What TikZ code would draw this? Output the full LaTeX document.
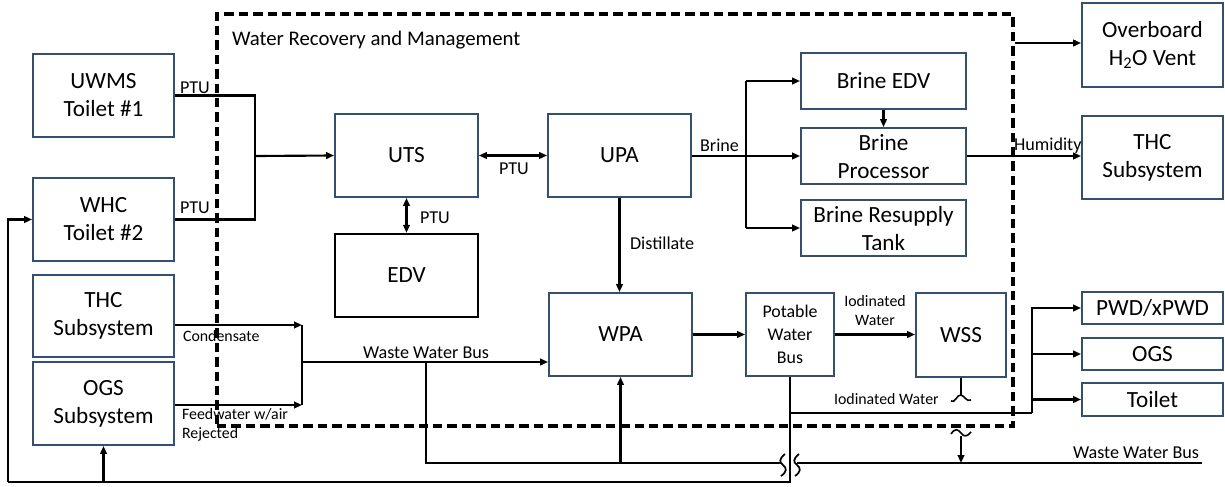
\documentclass[tikz,border=0pt]{standalone}
\usepackage{fontspec}
\setmainfont{Carlito}
\usetikzlibrary{arrows.meta,fit}
\definecolor{boxline}{HTML}{34506E}
\tikzset{
  x=0.75pt, y=-0.75pt,
  every path/.style={line width=1.6pt},
  unit/.style={draw=boxline, line width=1.4pt, rectangle, inner sep=0pt},
  blackunit/.style={unit, draw=black, line width=1.8pt},
  unittext/.style={align=center, font=\fontsize{17.4pt}{21pt}\selectfont},
  lbl/.style={inner sep=0pt, font=\fontsize{13.6pt}{14.2pt}\selectfont},
  smalllbl/.style={inner sep=0pt, font=\fontsize{11.9pt}{14pt}\selectfont},
  flow/.style={-{Triangle[length=6pt,width=5pt]}},
  bothflow/.style={{Triangle[length=6pt,width=5pt]}-{Triangle[length=6pt,width=5pt]}},
  boundary/.style={draw=black, line width=2.5pt, dash pattern=on 7pt off 3.8pt, inner sep=0pt}
}
\begin{document}
\begin{tikzpicture}
\useasboundingbox (0,0) rectangle (1225,486);

% subsystem boundary
\node[boundary, fit={(217,14) (1013,426)}] (wrm) {};
\node[lbl, anchor=base west, font=\fontsize{15.6pt}{18pt}\selectfont] (wrmtitle) at (231,45) {Water Recovery and Management};

% boxes outside the boundary, left
\node[unit, fit={(33,54) (174,137)}] (uwms) {};
\node[unittext] (uwmsT) at (uwms) {UWMS\\Toilet \#1};
\node[unit, fit={(33,178) (174,261)}] (whc) {};
\node[unittext] (whcT) at (whc) {WHC\\Toilet \#2};
\node[unit, fit={(33,275) (174,357)}] (thcl) {};
\node[unittext] (thclT) at (thcl) {THC\\Subsystem};
\node[unit, fit={(33,362) (174,445)}] (ogsl) {};
\node[unittext] (ogslT) at (ogsl) {OGS\\Subsystem};

% boxes inside the boundary
\node[unit, fit={(335,114) (478,197)}] (uts) {};
\node[unittext] (utsT) at (uts) {UTS};
\node[unit, fit={(548,114) (691,197)}] (upa) {};
\node[unittext] (upaT) at (upa) {UPA};
\node[blackunit, fit={(335,234) (478,317)}] (edv) {};
\node[unittext] (edvT) at (edv) {EDV};
\node[unit, fit={(549,293) (692,376)}] (wpa) {};
\node[unittext] (wpaT) at (wpa) {WPA};
\node[unit, fit={(801,53) (966,109)}] (bedv) {};
\node[unittext] (bedvT) at (bedv) {Brine EDV};
\node[unit, fit={(801,128) (966,184)}] (bproc) {};
\node[unittext] (bprocT) at ([yshift=-0.75pt]bproc) {Brine\\Processor};
\node[unit, fit={(801,200) (966,256)}] (btank) {};
\node[unittext] (btankT) at ([yshift=-0.75pt]btank) {Brine Resupply\\Tank};
\node[unit, fit={(746,293) (834,376)}] (pwb) {};
\node[unittext, font=\fontsize{13.4pt}{17pt}\selectfont] (pwbT) at (pwb) {Potable\\Water\\Bus};
\node[unit, fit={(916,293) (1006,377)}] (wss) {};
\node[unittext] (wssT) at (wss) {WSS};

% boxes outside the boundary, right
\node[unit, fit={(1082,3) (1223,87)}] (obv) {};
\node[unittext] (obvT) at (obv) {Overboard\\H\textsubscript{2}O Vent};
\node[unit, fit={(1082,116) (1223,199)}] (thcr) {};
\node[unittext] (thcrT) at (thcr) {THC\\Subsystem};
\node[unit, fit={(1082,292) (1223,324)}] (pwd) {};
\node[unittext] (pwdT) at (pwd) {PWD/xPWD};
\node[unit, fit={(1082,338) (1223,370)}] (ogsr) {};
\node[unittext] (ogsrT) at (ogsr) {OGS};
\node[unit, fit={(1082,383) (1223,416)}] (toil) {};
\node[unittext] (toilT) at (toil) {Toilet};

% junction points
\coordinate (ptuj) at (255,156);
\coordinate (bj) at (746,156);
\coordinate (cj1) at (302,325);
\coordinate (cj2) at (302,405);
\coordinate (wwb) at (302,362);
\coordinate (wwd) at (426,362);
\coordinate (brkL) at (781,463);
\coordinate (brkR) at (797,463);
\coordinate (wwEnd) at (1202,463);
\coordinate (pbot) at (790,482);
\coordinate (lb) at (8,482);
\coordinate (pr) at (790,413);
\coordinate (pv) at (1032,413);
\coordinate (wssA) at (961,395);
\coordinate (wssB) at (961,436);

% pretreated urine into the UTS
\draw (uwms.east) -| (ptuj);
\draw (whc.east) -| (ptuj);
\draw[flow] (ptuj) -- (uts.west);
\node[lbl, anchor=base west] (l1) at (179,93) {PTU};
\node[lbl, anchor=base west] (l2) at (179,213) {PTU};

% UTS exchanges
\draw[bothflow] (uts.east) -- (upa.west);
\node[lbl, anchor=base west] (l3) at (498,174) {PTU};
\draw[bothflow] (uts.south) -- (edv.north);
\node[lbl, anchor=base west] (l4) at (419,223) {PTU};

% distillate
\draw[flow] (upa.south) -- (upa.south |- wpa.north);
\node[lbl, anchor=base west] (l5) at (629,249) {Distillate};

% brine branch
\draw (upa.east |- bj) -- (bj);
\draw (bj |- bedv.west) -- (bj |- btank.west);
\draw[flow] (bj |- bedv.west) -- (bedv.west);
\draw[flow] (bj) -- (bj -| bproc.west);
\draw[flow] (bj |- btank.west) -- (btank.west);
\node[lbl, anchor=base west] (l6) at (699,151) {Brine};
\draw[flow] (bedv.south) -- (bproc.north);
\draw[flow] (bproc.east |- bj) -- (bj -| thcr.west);
\node[lbl, anchor=base west] (l7) at (1013,150) {Humidity};
\draw[flow] (wrm.east |- 0,43) -- (obv.west |- 0,43);

% condensate and feedwater to the waste water bus
\draw[flow] (thcl.east |- cj1) -- (cj1);
\draw[flow] (ogsl.east |- cj2) -- (cj2);
\draw (cj1) -- (cj2);
\draw[flow] (wwb) -- (wwb -| wpa.west);
\node[smalllbl, anchor=base west] (l8) at (182,341) {Condensate};
\node[smalllbl, anchor=base west, align=left] (l9) at (181,438) {Feedwater w/air\\Rejected};
\node[lbl, anchor=base west] (l10) at (362,358) {Waste Water Bus};

% lower waste water bus
\draw (wwd) |- (brkL);
\draw[flow] (wpa.south |- brkL) -- (wpa.south);
\draw (brkR) -- (wwEnd);
\node[lbl, anchor=base west] (l11) at (1072,458) {Waste Water Bus};
\draw[line width=1.3pt] (785,454) .. controls (779,459) and (779,462) .. (783,465) .. controls (787,468) and (787,472) .. (781,476);
\draw[line width=1.3pt] (799,454) .. controls (793,459) and (793,462) .. (797,465) .. controls (801,468) and (801,472) .. (795,476);

% potable water
\draw[flow] (wpa.east) -- (pwb.west);
\draw[flow] (pwb.east) -- (pwb.east -| wss.west);
\node[smalllbl, anchor=base, align=center] (l12) at (875,325) {Iodinated\\Water};
\draw (pwb.south) -- (pbot) -- (lb);
\draw[flow] (lb) |- (whc.west);
\draw[flow] (ogsl.south |- pbot) -- (ogsl.south);
\draw (pr) -- (pv);
\draw[flow] (pv) |- (pwd.west);
\draw[flow] (pv |- ogsr.west) -- (ogsr.west);
\draw[flow] (pv |- toil.west) -- (toil.west);
\node[smalllbl, anchor=base west] (l13) at (833,404) {Iodinated Water};

% WSS return to the waste water bus
\draw (wss.south) -- (wssA);
\draw[line width=1.2pt] (951,401) .. controls (955,404) and (957,394) .. (961,395) .. controls (965,396) and (966,402) .. (971,400);
\draw[line width=1.2pt] (951,434) .. controls (955,428) and (958,429) .. (961,433) .. controls (964,437) and (967,437) .. (971,432);
\draw[flow] (wssB) -- (wssB |- wwEnd);
\end{tikzpicture}
\end{document}
